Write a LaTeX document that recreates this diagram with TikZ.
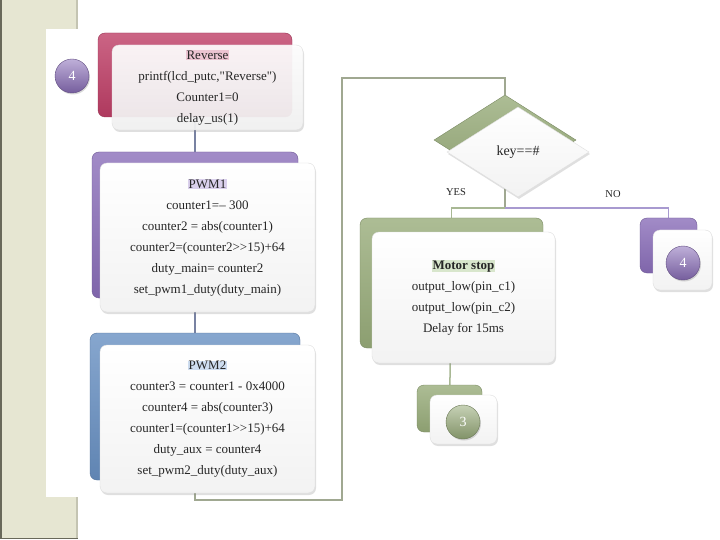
\documentclass[tikz,border=0pt]{standalone}
\usepackage{fontspec}
\setmainfont{Liberation Serif}[Ligatures=TeXOff]
\usetikzlibrary{shapes.geometric,shadows}
\pgfdeclarelayer{background}
\pgfsetlayers{background,main}

\definecolor{stripcol}{RGB}{230,230,210}
\definecolor{stripedge}{RGB}{105,105,90}
\definecolor{revcol}{RGB}{190,62,102}
\definecolor{pwmonecol}{RGB}{138,110,185}
\definecolor{pwmtwocol}{RGB}{104,144,194}
\definecolor{motcol}{RGB}{152,172,122}
\definecolor{revlt}{RGB}{236,196,210}
\definecolor{pwmonelt}{RGB}{218,208,236}
\definecolor{pwmtwolt}{RGB}{206,221,240}
\definecolor{motlt}{RGB}{216,230,204}
\definecolor{stemcol}{RGB}{120,130,162}
\definecolor{loopcol}{RGB}{160,168,145}
\definecolor{yescol}{RGB}{168,184,148}
\definecolor{nocol}{RGB}{168,154,208}

\newcommand{\boxtitle}[2]{{\setlength\fboxsep{0.5pt}\colorbox{#1}{#2}}}

\begin{document}
\begin{tikzpicture}[x=1pt,y=-1pt]
    \tikzstyle{back}=[rectangle, rounded corners=7pt, inner sep=0pt,
        draw=#1!80!black, thin, top color=#1!80!white, bottom color=#1!92!black]
    \tikzstyle{front}=[rectangle, rounded corners=7pt, inner sep=0pt,
        draw=gray!25, thin, top color=white, bottom color=gray!10,
        drop shadow={shadow xshift=1pt, shadow yshift=-2pt, opacity=0.25},
        text=black!85, align=center, font=\fontsize{13}{21}\selectfont]
    \tikzstyle{ball}=[circle, inner sep=0pt, minimum size=34pt,
        top color=#1!55!white, bottom color=#1!85!black, draw=#1!70!black, thin,
        drop shadow={shadow xshift=1pt, shadow yshift=-1.5pt, opacity=0.3},
        text=white, font=\fontsize{14}{14}\selectfont]
    \tikzstyle{decide}=[diamond, rounded corners=0pt, inner sep=0pt, aspect=1.58,
        minimum width=142pt, minimum height=90pt]
    \tikzstyle{link}=[line width=1.5pt]
    \tikzstyle{tag}=[font=\fontsize{10.5}{12}\selectfont, text=black!85]

    \useasboundingbox (0,0) rectangle (720,540);

    % left column
    \node[back=revcol, minimum width=194pt, minimum height=84pt] (revback) at (195,75) {};
    \node[front, fill opacity=0.92, text opacity=1, minimum width=191pt, minimum height=85pt] (revfront) at (207.5,87.5)
        {\boxtitle{revlt}{Reverse}\\printf(lcd\_putc,"Reverse")\\Counter1=0\\delay\_us(1)};
    \node[ball=pwmonecol] (backfour) at (72,76) {4};

    \node[back=pwmonecol, minimum width=206pt, minimum height=146pt] (pwmoneback) at (195,225) {};
    \node[front, minimum width=215pt, minimum height=149pt] (pwmonefront) at (207.5,237.5)
        {\boxtitle{pwmonelt}{PWM1}\\counter1=– 300\\counter2 = abs(counter1)\\counter2=(counter2>>15)+64\\duty\_main= counter2\\set\_pwm1\_duty(duty\_main)};

    \node[back=pwmtwocol, minimum width=210pt, minimum height=147pt] (pwmtwoback) at (195,406.5) {};
    \node[front, minimum width=215pt, minimum height=148pt] (pwmtwofront) at (207.5,419)
        {\boxtitle{pwmtwolt}{PWM2}\\counter3 = counter1 - 0x4000\\counter4 = abs(counter3)\\counter1=(counter1>>15)+64\\duty\_aux = counter4\\set\_pwm2\_duty(duty\_aux)};

    % right column
    \node[back=motcol, decide] (keyback) at (505,140) {};
    \node[front, decide, font=\fontsize{14}{16}\selectfont] (keyfront) at (518,152) {key==\#};

    \node[back=motcol, minimum width=183pt, minimum height=130pt] (motback) at (451.5,283) {};
    \node[front, minimum width=183pt, minimum height=131pt] (motfront) at (463.5,297.5)
        {\boxtitle{motlt}{\textbf{Motor stop}}\\output\_low(pin\_c1)\\output\_low(pin\_c2)\\Delay for 15ms};

    \node[back=pwmonecol, minimum width=57pt, minimum height=55pt] (noback) at (668.5,245.5) {};
    \node[front, minimum width=59pt, minimum height=60pt] (nofront) at (682.5,260) {};
    \node[ball=pwmonecol] (nofour) at (683,263) {4};

    \node[back=motcol, minimum width=65pt, minimum height=47pt] (threeback) at (449.5,408.5) {};
    \node[front, minimum width=67pt, minimum height=49pt] (threefront) at (463.5,419.5) {};
    \node[ball=motcol] (three) at (463,422) {3};

    \node[tag] (yes) at (456,192) {YES};
    \node[tag] (no) at (613,194) {NO};

    \coordinate (loopbot) at (342,500);
    \coordinate (looptop) at (342,78);
    \coordinate (split) at (505,208);

    \begin{pgfonlayer}{background}
        \fill[white] (0,0) rectangle (720,540);
        \fill[stripcol] (0,0) rectangle (78,538);
        \draw[stripcol!85!black, line width=1.5pt] (77,0) -- (77,538);
        \draw[stripedge, line width=1.5pt] (0.75,0) -- (0.75,538.5) -- (78,538.5);
        \fill[white] (46,29) rectangle (330,497);

        \draw[link, stemcol] (revback) -- (pwmoneback) -- (pwmtwoback);
        \draw[link, loopcol] (pwmtwoback) |- (loopbot) -- (looptop) -| (keyback);
        \draw[link, loopcol] (keyback) -- (split);
        \draw[link, yescol] (split) -| (motback);
        \draw[link, nocol] (split) -| (noback);
        \draw[link, yescol] (motback) -- (threeback);
    \end{pgfonlayer}
\end{tikzpicture}
\end{document}
